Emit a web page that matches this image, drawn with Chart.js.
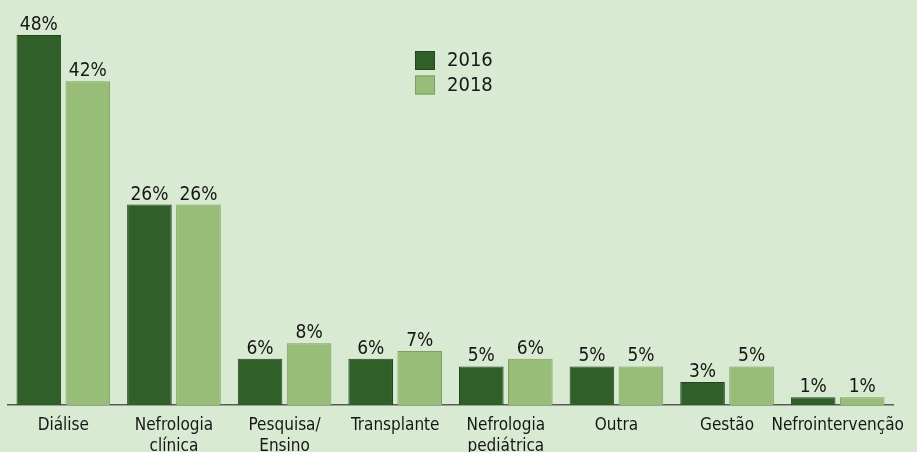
<!DOCTYPE html>
<html>
<head>
<meta charset="utf-8">
<script src="https://cdn.jsdelivr.net/npm/chart.js@4/dist/chart.umd.min.js"></script>
<style>
    html, body { margin: 0; padding: 0; background: #d9ead3; }
    #wrap { position: relative; width: 917px; height: 452px; }
</style>
</head>
<body>
<div id="wrap"><canvas id="grafico" width="917" height="452"></canvas></div>
<script>
    const categorias = ['Diálise', ['Nefrologia', 'clínica'], ['Pesquisa/', 'Ensino'], 'Transplante',
        ['Nefrologia', 'pediátrica'], 'Outra', 'Gestão', 'Nefrointervenção'];
    const valores2016 = [48, 26, 6, 6, 5, 5, 3, 1];
    const valores2018 = [42, 26, 8, 7, 6, 5, 5, 1];
    const anos = ['2016', '2018'];

    const fonte = '"DejaVu Sans Condensed", "DejaVu Sans", sans-serif';
    const corEscura = '#315f2a';
    const corClara = '#98bd78';

    // rótulos de percentual acima de cada barra
    const rotulosBarras = {
        id: 'rotulosBarras',
        afterDatasetsDraw(chart) {
            const ctx = chart.ctx;
            ctx.save();
            ctx.font = '19px ' + fonte;
            ctx.fillStyle = '#161616';
            ctx.textAlign = 'center';
            ctx.textBaseline = 'alphabetic';
            chart.data.datasets.forEach(function (ds, i) {
                chart.getDatasetMeta(i).data.forEach(function (bar, j) {
                    ctx.fillText(ds.data[j] + '%', bar.x, bar.y - 5);
                });
            });
            ctx.restore();
        }
    };

    // legenda com quadrados empilhados
    const legendaAnos = {
        id: 'legendaAnos',
        afterDraw(chart) {
            const ctx = chart.ctx;
            const x0 = chart.chartArea.left + 407;
            ctx.save();
            ctx.font = '20px ' + fonte;
            ctx.textBaseline = 'middle';
            chart.data.datasets.forEach(function (ds, i) {
                const y = 51 + i * 24.5;
                ctx.fillStyle = ds.backgroundColor;
                ctx.fillRect(x0, y, 20, 19);
                ctx.strokeStyle = ds.borderColor;
                ctx.lineWidth = 1;
                ctx.strokeRect(x0 + 0.5, y + 0.5, 19, 18);
                ctx.fillStyle = '#161616';
                ctx.fillText(ds.label, x0 + 32, y + 10);
            });
            ctx.restore();
        }
    };

    const ctx = document.getElementById('grafico').getContext('2d');
    new Chart(ctx, {
        type: 'bar',
        data: {
            labels: categorias,
            datasets: [
                {
                    label: anos[0],
                    data: valores2016,
                    backgroundColor: corEscura,
                    borderColor: '#22451d',
                    borderWidth: 1
                },
                {
                    label: anos[1],
                    data: valores2018,
                    backgroundColor: corClara,
                    borderColor: '#7a9f5e',
                    borderWidth: 1
                }
            ]
        },
        options: {
            responsive: false,
            animation: false,
            devicePixelRatio: 1,
            layout: { padding: { top: 35, left: 8, right: 24, bottom: 0 } },
            categoryPercentage: 0.886,
            barPercentage: 0.91,
            plugins: {
                legend: { display: false },
                tooltip: { enabled: false }
            },
            scales: {
                x: {
                    grid: { display: false, drawTicks: false },
                    border: { display: true, color: '#5a5a5a', width: 1.5 },
                    ticks: {
                        color: '#161616',
                        padding: 10,
                        maxRotation: 0,
                        autoSkip: false,
                        font: { family: fonte, size: 17, lineHeight: 1.25 }
                    },
                    afterFit: function (scale) { scale.height = 47; }
                },
                y: {
                    display: false,
                    min: 0,
                    max: 48
                }
            }
        },
        plugins: [rotulosBarras, legendaAnos]
    });
</script>
</body>
</html>
